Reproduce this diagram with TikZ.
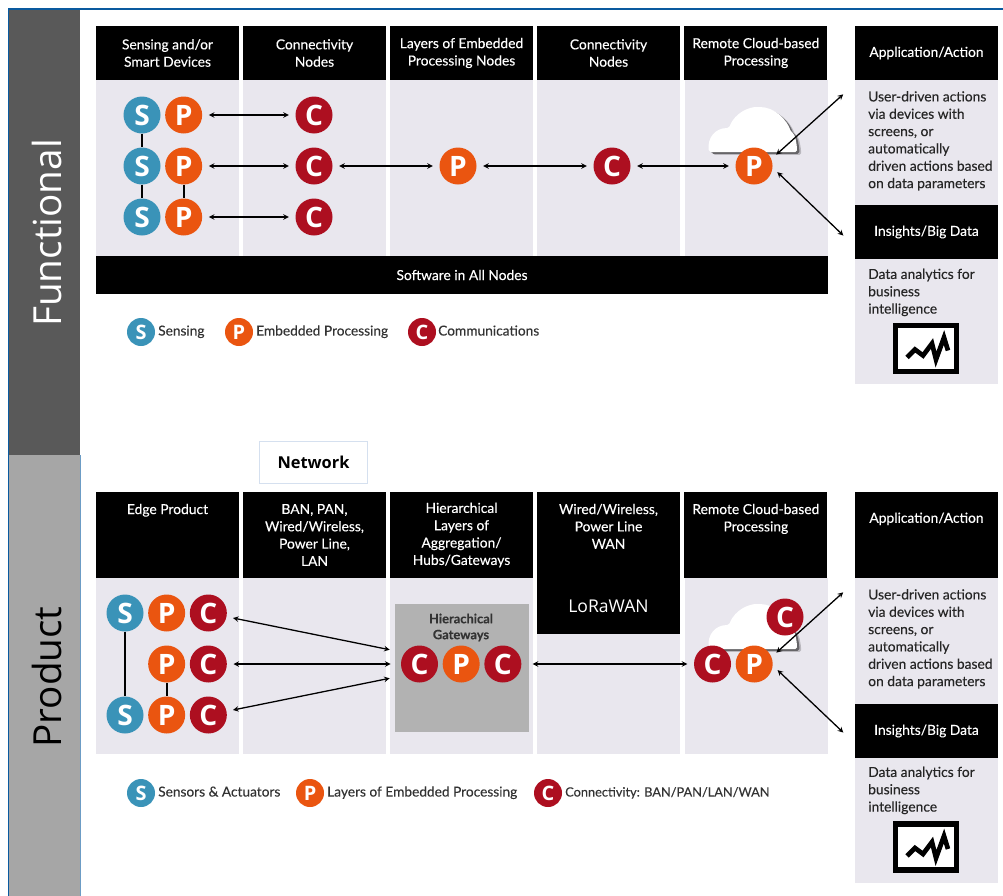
\documentclass[tikz,border=0pt]{standalone}
\usepackage{fontspec}
\setmainfont{Lato}[FakeBold=0.2]
\newfontfamily\wide{Open Sans}
\usetikzlibrary{positioning,shadows}
\definecolor{sblue}{HTML}{3A93B8}
\definecolor{porange}{HTML}{EA5510}
\definecolor{cred}{HTML}{AD0F20}
\definecolor{panelgrey}{HTML}{E9E7EE}
\definecolor{framelink}{HTML}{0A5A9F}
\definecolor{boxedge}{HTML}{D5E0EF}
\tikzset{
  dot/.style={circle,minimum size=1.11cm,inner sep=0pt,text=white,font=\wide\bfseries\fontsize{24}{24}\selectfont},
  sdot/.style={dot,fill=sblue},
  pdot/.style={dot,fill=porange},
  cdot/.style={dot,fill=cred},
  keydot/.style={minimum size=0.84cm,font=\wide\bfseries\fontsize{17}{17}\selectfont},
  keytext/.style={anchor=west,inner sep=0pt,text=black!80,text height=8pt,text depth=2pt,font=\fontsize{11.7}{13}\selectfont},
  head/.style={fill=black,text=white,align=center,inner sep=0pt,minimum width=4.29cm,font=\fontsize{11.8}{14.8}\selectfont},
  headtop/.style={head,minimum height=1.62cm},
  headlow/.style={head,minimum height=2.58cm},
  panel/.style={fill=panelgrey},
  side/.style={anchor=north west,align=left,inner sep=0pt,text=black!85,font=\fontsize{11.8}{14.8}\selectfont},
  link/.style={<->,>=stealth,line width=1.1pt,shorten >=5.5pt,shorten <=5.5pt},
  tie/.style={line width=1.8pt},
  cloudpic/.pic={
    \fill[white,drop shadow={opacity=.2,fill=black,shadow xshift=3.5pt,shadow yshift=-2.5pt},drop shadow={opacity=.45,fill=black,shadow xshift=2pt,shadow yshift=-1.5pt},rounded corners=1.5pt]
      (-46,0) .. controls (-48,-14) and (-40,-24) .. (-26,-24)
      .. controls (-20,-40) and (-5,-45) .. (3,-45)
      .. controls (20,-45) and (32,-32) .. (36,-20)
      .. controls (40,-18) and (42,-8) .. (42,0) -- cycle;
  },
  chartpic/.pic={
    \draw[line width=4.3pt,fill=white] (-30.5,-23) rectangle (30.5,23);
    \draw[line width=4pt,line join=miter] (-19,9) -- (-11,1) -- (-3,7) -- (6,-5) -- (10,11) -- (18,-11) -- (22,2);
  }
}
\begin{document}
\begin{tikzpicture}[x=0.03cm,y=-0.03cm,on grid,node distance=1.53cm and 1.25cm]
  \useasboundingbox (0,0) rectangle (1003,896);
  \fill[black!65] (9,9) rectangle (80,455);
  \fill[black!35] (9,455) rectangle (80,896);
  \draw[framelink,line width=1.2pt] (8.7,896) -- (8.7,9) -- (1003,9);
  \draw[framelink!60,line width=0.5pt] (80.5,455) -- (80.5,896);
  \node[rotate=90,text=white,font=\wide\fontsize{33}{33}\selectfont] (functional) at (47,233) {Functional};
  \node[rotate=90,text=black,font=\wide\fontsize{33}{33}\selectfont] (product) at (47,677) {Product};

  \fill[panel] (96,80) rectangle (239,256);
  \fill[panel] (243,80) rectangle (386,256);
  \fill[panel] (390,80) rectangle (533,256);
  \fill[panel] (537,80) rectangle (680,256);
  \fill[panel] (685,80) rectangle (828,256);
  \fill[panel] (855,80) rectangle (998,384);
  \fill[panel] (96,578) rectangle (239,754);
  \fill[panel] (243,578) rectangle (386,754);
  \fill[panel] (390,578) rectangle (533,754);
  \fill[panel] (537,578) rectangle (680,754);
  \fill[panel] (685,578) rectangle (828,754);
  \fill[panel] (855,578) rectangle (998,883);

  \node[headtop] (h_1) at (167.5,53) {Sensing and/or\\Smart Devices};
  \node[headtop] (h_2) [right=4.41cm of h_1] {Connectivity\\Nodes};
  \node[headtop] (h_3) [right=4.41cm of h_2] {Layers of Embedded\\Processing Nodes};
  \node[headtop] (h_4) [right=4.41cm of h_3] {Connectivity\\Nodes};
  \node[headtop] (h_5) [right=4.42cm of h_4] {Remote Cloud-based\\Processing};
  \node[headtop] (h_6) at (926.5,53) {Application/Action};
  \node[headtop] (h_7) at (926.5,232) {Insights/Big Data};
  \node[head,minimum width=21.96cm,minimum height=1.14cm] (soft) at (462,275) {Software in All Nodes};

  \node[side] (t_1) at (868,91) {User-driven actions\\via devices with\\screens, or\\automatically\\driven actions based\\on data parameters};
  \node[side] (t_2) at (868,268.5) {Data analytics for\\business\\intelligence};
  \pic at (926,348.5) {chartpic};

  \pic at (755,152) {cloudpic};
  \node[sdot] (s_1) at (142,115) {S};
  \node[sdot] (s_2) [below=of s_1] {S};
  \node[sdot] (s_3) [below=of s_2] {S};
  \node[pdot] (p_1) [right=of s_1] {P};
  \node[pdot] (p_2) [right=of s_2] {P};
  \node[pdot] (p_3) [right=of s_3] {P};
  \node[cdot] (c_1) at (314,115) {C};
  \node[cdot] (c_2) [below=of c_1] {C};
  \node[cdot] (c_3) [below=of c_2] {C};
  \node[pdot] (p_4) [right=4.32cm of c_2] {P};
  \node[cdot] (c_4) [right=4.62cm of p_4] {C};
  \node[pdot] (p_5) [right=4.26cm of c_4] {P};
  \coordinate (act_1) at (848,90);
  \coordinate (big_1) at (848,240);

  \draw[tie] (s_1) -- (s_2);
  \draw[tie] (s_2) -- (s_3);
  \draw[tie] (p_2) -- (p_3);
  \path[link]
    (p_1) edge (c_1)
    (p_2) edge (c_2)
    (p_3) edge (c_3)
    (c_2) edge (p_4)
    (p_4) edge (c_4)
    (c_4) edge (p_5)
    (p_5.22) edge (act_1)
    (p_5.-5) edge (big_1);

  \node[sdot,keydot] (key_s) at (141,332) {S};
  \node[keytext] (key_st) at (158,332) {Sensing};
  \node[pdot,keydot] (key_p) at (239,332) {P};
  \node[keytext] (key_pt) at (256,332) {Embedded Processing};
  \node[cdot,keydot] (key_c) at (422,332) {C};
  \node[keytext] (key_ct) at (438,332) {Communications};

  \node[draw=boxedge,line width=1.2pt,minimum width=3.24cm,minimum height=1.26cm,font=\wide\bfseries\fontsize{14}{16}\selectfont] (network) at (313.5,462.5) {Network};

  \node[headlow] (l_1) at (167.5,535) {Edge Product\\~\\~\\~};
  \node[headlow] (l_2) [right=4.41cm of l_1] {BAN, PAN,\\Wired/Wireless,\\Power Line,\\LAN};
  \node[headlow] (l_3) [right=4.41cm of l_2] {Hierarchical\\Layers of\\Aggregation/\\Hubs/Gateways};
  \node[headlow] (l_4) [right=4.41cm of l_3] {Wired/Wireless,\\Power Line\\WAN\\~};
  \node[headlow] (l_5) [right=4.42cm of l_4] {Remote Cloud-based\\Processing\\~\\~};
  \node[headlow] (l_6) at (926.5,535) {Application/Action\\~\\~};
  \node[headtop] (l_7) at (926.5,731) {Insights/Big Data};
  \node[head,minimum height=1.68cm,font=\wide\fontsize{15}{17}\selectfont] (lora) at (608.5,606) {LoRaWAN};

  \node[side] (t_3) at (868,589) {User-driven actions\\via devices with\\screens, or\\automatically\\driven actions based\\on data parameters};
  \node[side] (t_4) at (868,766.5) {Data analytics for\\business\\intelligence};
  \pic at (926,847) {chartpic};

  \node[fill=black!30,minimum width=4.02cm,minimum height=3.84cm,inner sep=0pt] (gate) at (462,668) {};
  \node[font=\bfseries\fontsize{11}{13.6}\selectfont,align=center,text=black!80,inner sep=0pt] (gate_t) at (461,627.5) {Hierachical\\Gateways};

  \pic at (755,649) {cloudpic};
  \node[sdot] (s_4) at (125,613) {S};
  \node[pdot] (p_6) [right=of s_4] {P};
  \node[cdot] (c_5) [right=of p_6] {C};
  \node[pdot] (p_7) [below=of p_6] {P};
  \node[cdot] (c_6) [right=of p_7] {C};
  \node[pdot] (p_8) [below=of p_7] {P};
  \node[sdot] (s_5) [left=of p_8] {S};
  \node[cdot] (c_7) [right=of p_8] {C};
  \node[cdot] (c_8) [right=6.335cm of c_6] {C};
  \node[pdot] (p_9) [right=of c_8] {P};
  \node[cdot] (c_9) [right=of p_9] {C};
  \node[cdot] (c_10) [right=6.29cm of c_9] {C};
  \node[pdot] (p_10) [right=of c_10] {P};
  \node[cdot] (c_11) at (785,617) {C};
  \coordinate (gate_1) at (396,651);
  \coordinate[right=5.66cm of c_6] (gate_2);
  \coordinate (gate_3) at (396,677);
  \coordinate (act_2) at (848,588);
  \coordinate (big_2) at (848,737);

  \draw[tie] (s_4) -- (s_5);
  \draw[tie] (p_7) -- (p_8);
  \path[link]
    (c_5) edge (gate_1)
    (c_6) edge (gate_2)
    (c_7) edge (gate_3)
    (c_9) edge[shorten <=9.5pt] (c_10)
    (p_10.22) edge (act_2)
    (p_10.-5) edge (big_2);

  \node[sdot,keydot] (key_s2) at (141,793) {S};
  \node[keytext] (key_st2) at (158,793) {Sensors \& Actuators};
  \node[pdot,keydot] (key_p2) at (310,793) {P};
  \node[keytext] (key_pt2) at (327,793) {Layers of Embedded Processing};
  \node[cdot,keydot] (key_c2) at (548,793) {C};
  \node[keytext,font=\fontsize{10.9}{13}\selectfont] (key_ct2) at (565,793) {Connectivity: BAN/PAN/LAN/WAN};
\end{tikzpicture}
\end{document}
